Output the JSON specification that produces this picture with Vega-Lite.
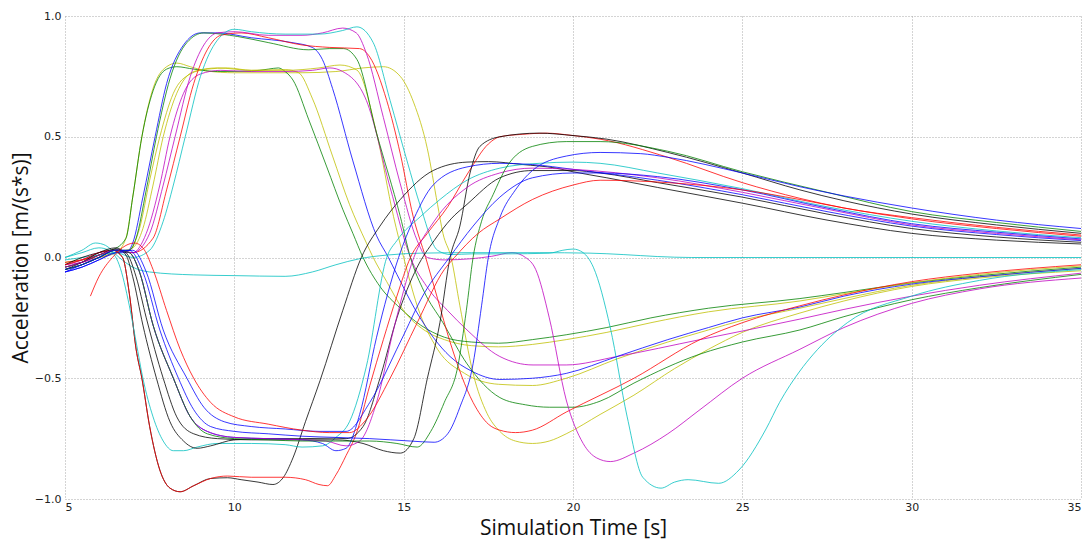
{
"$schema": "https://vega.github.io/schema/vega-lite/v6.json",
"width": 1016, "height": 483,
"autosize": {"type": "none"},
"padding": {"left": 65, "top": 16, "right": 9, "bottom": 42},
"background": "white",
"config": {
  "view": {"stroke": null},
  "axis": {"domain": false, "ticks": false, "grid": true, "gridDash": [1, 2], "gridColor": "#a8a8a8", "gridWidth": 1,
           "labelFont": "DejaVu Sans", "labelFontSize": 11, "labelColor": "#222",
           "titleFont": "Open Sans", "titleFontSize": 21, "titleFontWeight": "normal", "titleColor": "#111"}
},
"data": {"values": [
{"s":"A1","x":5,"y":-0.02},{"s":"A1","x":5.5,"y":-0.01},{"s":"A1","x":6,"y":0},{"s":"A1","x":6.5,"y":0.02},{"s":"A1","x":6.8,"y":0.08},{"s":"A1","x":7.0,"y":0.25},{"s":"A1","x":7.27,"y":0.5},{"s":"A1","x":7.6,"y":0.7},{"s":"A1","x":8.0,"y":0.79},{"s":"A1","x":8.3,"y":0.805},{"s":"A1","x":8.7,"y":0.79},{"s":"A1","x":9.2,"y":0.772},{"s":"A1","x":10,"y":0.765},{"s":"A1","x":11,"y":0.765},{"s":"A1","x":12,"y":0.765},{"s":"A1","x":13,"y":0.77},{"s":"A1","x":13.8,"y":0.785},{"s":"A1","x":14.4,"y":0.79},{"s":"A1","x":14.9,"y":0.75},{"s":"A1","x":15.3,"y":0.64},{"s":"A1","x":15.7,"y":0.45},{"s":"A1","x":16.0,"y":0.22},{"s":"A1","x":16.16,"y":0.1},{"s":"A1","x":16.4,"y":0},{"s":"A1","x":16.66,"y":-0.2},{"s":"A1","x":17.05,"y":-0.48},{"s":"A1","x":17.46,"y":-0.645},{"s":"A1","x":17.84,"y":-0.72},{"s":"A1","x":18.3,"y":-0.76},{"s":"A1","x":18.8,"y":-0.77},{"s":"A1","x":19.3,"y":-0.76},{"s":"A1","x":19.8,"y":-0.73},{"s":"A1","x":20.8,"y":-0.65},{"s":"A1","x":21.8,"y":-0.57},{"s":"A1","x":23,"y":-0.46},{"s":"A1","x":24,"y":-0.38},{"s":"A1","x":25,"y":-0.31},{"s":"A1","x":26.7,"y":-0.23},{"s":"A1","x":28,"y":-0.18},{"s":"A1","x":30,"y":-0.12},{"s":"A1","x":32,"y":-0.085},{"s":"A1","x":35,"y":-0.055},
{"s":"A2","x":5,"y":-0.04},{"s":"A2","x":5.5,"y":-0.02},{"s":"A2","x":6,"y":0.01},{"s":"A2","x":6.4,"y":0.03},{"s":"A2","x":6.8,"y":0.08},{"s":"A2","x":7.0,"y":0.25},{"s":"A2","x":7.27,"y":0.5},{"s":"A2","x":7.6,"y":0.69},{"s":"A2","x":8.0,"y":0.78},{"s":"A2","x":8.3,"y":0.79},{"s":"A2","x":8.8,"y":0.78},{"s":"A2","x":9.5,"y":0.77},{"s":"A2","x":10.5,"y":0.772},{"s":"A2","x":11.0,"y":0.78},{"s":"A2","x":11.3,"y":0.785},{"s":"A2","x":11.5,"y":0.77},{"s":"A2","x":11.73,"y":0.735},{"s":"A2","x":12.2,"y":0.57},{"s":"A2","x":12.73,"y":0.375},{"s":"A2","x":13.2,"y":0.2},{"s":"A2","x":13.5,"y":0.1},{"s":"A2","x":13.8,"y":0},{"s":"A2","x":14.3,"y":-0.12},{"s":"A2","x":14.9,"y":-0.21},{"s":"A2","x":15.5,"y":-0.28},{"s":"A2","x":16.2,"y":-0.33},{"s":"A2","x":17,"y":-0.35},{"s":"A2","x":17.8,"y":-0.355},{"s":"A2","x":18.8,"y":-0.34},{"s":"A2","x":19.8,"y":-0.32},{"s":"A2","x":21,"y":-0.29},{"s":"A2","x":22.3,"y":-0.25},{"s":"A2","x":24,"y":-0.21},{"s":"A2","x":26.7,"y":-0.17},{"s":"A2","x":28,"y":-0.145},{"s":"A2","x":30,"y":-0.105},{"s":"A2","x":32,"y":-0.075},{"s":"A2","x":35,"y":-0.04},
{"s":"A3","x":5,"y":-0.03},{"s":"A3","x":5.5,"y":-0.01},{"s":"A3","x":6,"y":0.01},{"s":"A3","x":6.5,"y":0.02},{"s":"A3","x":6.9,"y":0.03},{"s":"A3","x":7.2,"y":0.12},{"s":"A3","x":7.5,"y":0.32},{"s":"A3","x":7.8,"y":0.5},{"s":"A3","x":8.2,"y":0.68},{"s":"A3","x":8.7,"y":0.76},{"s":"A3","x":9.2,"y":0.78},{"s":"A3","x":9.8,"y":0.785},{"s":"A3","x":10.5,"y":0.775},{"s":"A3","x":11.5,"y":0.778},{"s":"A3","x":11.9,"y":0.765},{"s":"A3","x":12.3,"y":0.66},{"s":"A3","x":12.9,"y":0.42},{"s":"A3","x":13.4,"y":0.22},{"s":"A3","x":13.9,"y":0.06},{"s":"A3","x":14.1,"y":0},{"s":"A3","x":14.5,"y":-0.1},{"s":"A3","x":15,"y":-0.22},{"s":"A3","x":15.6,"y":-0.3},{"s":"A3","x":16.2,"y":-0.34},{"s":"A3","x":17,"y":-0.365},{"s":"A3","x":17.8,"y":-0.37},{"s":"A3","x":18.8,"y":-0.36},{"s":"A3","x":19.8,"y":-0.34},{"s":"A3","x":21,"y":-0.31},{"s":"A3","x":22.3,"y":-0.27},{"s":"A3","x":24,"y":-0.225},{"s":"A3","x":26.7,"y":-0.18},{"s":"A3","x":28,"y":-0.15},{"s":"A3","x":30,"y":-0.105},{"s":"A3","x":32,"y":-0.07},{"s":"A3","x":35,"y":-0.035},
{"s":"A4","x":5,"y":-0.05},{"s":"A4","x":5.5,"y":-0.03},{"s":"A4","x":6,"y":0},{"s":"A4","x":6.5,"y":0.02},{"s":"A4","x":7,"y":0.04},{"s":"A4","x":7.3,"y":0.12},{"s":"A4","x":7.6,"y":0.3},{"s":"A4","x":7.9,"y":0.5},{"s":"A4","x":8.3,"y":0.68},{"s":"A4","x":8.8,"y":0.77},{"s":"A4","x":9.5,"y":0.785},{"s":"A4","x":10.5,"y":0.775},{"s":"A4","x":11.5,"y":0.775},{"s":"A4","x":12.5,"y":0.785},{"s":"A4","x":13.12,"y":0.797},{"s":"A4","x":13.62,"y":0.776},{"s":"A4","x":14.2,"y":0.515},{"s":"A4","x":14.7,"y":0.17},{"s":"A4","x":15.0,"y":0},{"s":"A4","x":15.4,"y":-0.2},{"s":"A4","x":16.0,"y":-0.38},{"s":"A4","x":16.8,"y":-0.48},{"s":"A4","x":17.8,"y":-0.525},{"s":"A4","x":18.8,"y":-0.53},{"s":"A4","x":19.8,"y":-0.5},{"s":"A4","x":21.3,"y":-0.42},{"s":"A4","x":22.8,"y":-0.35},{"s":"A4","x":24,"y":-0.3},{"s":"A4","x":25,"y":-0.26},{"s":"A4","x":26.7,"y":-0.21},{"s":"A4","x":28,"y":-0.17},{"s":"A4","x":30,"y":-0.115},{"s":"A4","x":32,"y":-0.08},{"s":"A4","x":35,"y":-0.045},
{"s":"A5","x":5,"y":-0.03},{"s":"A5","x":5.5,"y":-0.02},{"s":"A5","x":6,"y":0},{"s":"A5","x":6.5,"y":0.03},{"s":"A5","x":7,"y":0.02},{"s":"A5","x":7.4,"y":0.1},{"s":"A5","x":7.8,"y":0.3},{"s":"A5","x":8.1,"y":0.5},{"s":"A5","x":8.5,"y":0.68},{"s":"A5","x":9,"y":0.76},{"s":"A5","x":9.6,"y":0.775},{"s":"A5","x":10.5,"y":0.77},{"s":"A5","x":11.5,"y":0.77},{"s":"A5","x":12.3,"y":0.775},{"s":"A5","x":12.82,"y":0.785},{"s":"A5","x":13.2,"y":0.77},{"s":"A5","x":13.9,"y":0.65},{"s":"A5","x":14.6,"y":0.29},{"s":"A5","x":15.2,"y":0},{"s":"A5","x":15.68,"y":-0.12},{"s":"A5","x":16.3,"y":-0.22},{"s":"A5","x":16.87,"y":-0.3},{"s":"A5","x":17.84,"y":-0.41},{"s":"A5","x":18.82,"y":-0.445},{"s":"A5","x":19.8,"y":-0.445},{"s":"A5","x":21.3,"y":-0.41},{"s":"A5","x":23.75,"y":-0.34},{"s":"A5","x":26.7,"y":-0.255},{"s":"A5","x":28,"y":-0.215},{"s":"A5","x":30,"y":-0.16},{"s":"A5","x":32,"y":-0.115},{"s":"A5","x":35,"y":-0.065},
{"s":"A6","x":5,"y":-0.06},{"s":"A6","x":5.5,"y":-0.04},{"s":"A6","x":6,"y":-0.01},{"s":"A6","x":6.5,"y":0.02},{"s":"A6","x":6.8,"y":0.02},{"s":"A6","x":7.0,"y":0.06},{"s":"A6","x":7.3,"y":0.25},{"s":"A6","x":7.66,"y":0.5},{"s":"A6","x":8.0,"y":0.72},{"s":"A6","x":8.5,"y":0.88},{"s":"A6","x":9.0,"y":0.93},{"s":"A6","x":9.5,"y":0.93},{"s":"A6","x":10.5,"y":0.91},{"s":"A6","x":11.7,"y":0.89},{"s":"A6","x":12.3,"y":0.87},{"s":"A6","x":12.6,"y":0.82},{"s":"A6","x":12.9,"y":0.7},{"s":"A6","x":13.5,"y":0.4},{"s":"A6","x":14.2,"y":0.09},{"s":"A6","x":14.55,"y":0},{"s":"A6","x":14.8,"y":-0.07},{"s":"A6","x":15.4,"y":-0.23},{"s":"A6","x":16.37,"y":-0.41},{"s":"A6","x":17.0,"y":-0.47},{"s":"A6","x":17.84,"y":-0.505},{"s":"A6","x":18.8,"y":-0.5},{"s":"A6","x":19.8,"y":-0.48},{"s":"A6","x":21.3,"y":-0.41},{"s":"A6","x":22.8,"y":-0.34},{"s":"A6","x":24,"y":-0.29},{"s":"A6","x":25,"y":-0.25},{"s":"A6","x":26.7,"y":-0.205},{"s":"A6","x":28,"y":-0.16},{"s":"A6","x":30,"y":-0.11},{"s":"A6","x":32,"y":-0.08},{"s":"A6","x":35,"y":-0.045},
{"s":"A7","x":5,"y":-0.05},{"s":"A7","x":5.5,"y":-0.03},{"s":"A7","x":6,"y":0},{"s":"A7","x":6.5,"y":0.03},{"s":"A7","x":6.9,"y":0.03},{"s":"A7","x":7.1,"y":0.08},{"s":"A7","x":7.4,"y":0.28},{"s":"A7","x":7.7,"y":0.5},{"s":"A7","x":8.1,"y":0.74},{"s":"A7","x":8.6,"y":0.89},{"s":"A7","x":9.1,"y":0.93},{"s":"A7","x":10.1,"y":0.915},{"s":"A7","x":11,"y":0.89},{"s":"A7","x":12.2,"y":0.86},{"s":"A7","x":12.8,"y":0.865},{"s":"A7","x":13.22,"y":0.865},{"s":"A7","x":13.62,"y":0.82},{"s":"A7","x":14.2,"y":0.515},{"s":"A7","x":14.9,"y":0.17},{"s":"A7","x":15.2,"y":0},{"s":"A7","x":15.6,"y":-0.14},{"s":"A7","x":16.16,"y":-0.27},{"s":"A7","x":16.87,"y":-0.44},{"s":"A7","x":17.84,"y":-0.58},{"s":"A7","x":18.6,"y":-0.61},{"s":"A7","x":19.3,"y":-0.62},{"s":"A7","x":20.0,"y":-0.62},{"s":"A7","x":20.8,"y":-0.595},{"s":"A7","x":21.8,"y":-0.52},{"s":"A7","x":23.75,"y":-0.4},{"s":"A7","x":25,"y":-0.35},{"s":"A7","x":26.7,"y":-0.3},{"s":"A7","x":28,"y":-0.245},{"s":"A7","x":30,"y":-0.175},{"s":"A7","x":32,"y":-0.125},{"s":"A7","x":35,"y":-0.07},
{"s":"A8","x":5,"y":-0.02},{"s":"A8","x":5.5,"y":-0.01},{"s":"A8","x":6,"y":0.01},{"s":"A8","x":6.5,"y":0.03},{"s":"A8","x":7,"y":0.02},{"s":"A8","x":7.6,"y":0.08},{"s":"A8","x":8.0,"y":0.28},{"s":"A8","x":8.4,"y":0.5},{"s":"A8","x":8.8,"y":0.72},{"s":"A8","x":9.2,"y":0.86},{"s":"A8","x":9.6,"y":0.92},{"s":"A8","x":10.2,"y":0.93},{"s":"A8","x":11,"y":0.91},{"s":"A8","x":12,"y":0.88},{"s":"A8","x":12.8,"y":0.87},{"s":"A8","x":13.7,"y":0.865},{"s":"A8","x":14.0,"y":0.83},{"s":"A8","x":14.5,"y":0.65},{"s":"A8","x":14.9,"y":0.43},{"s":"A8","x":15.28,"y":0.17},{"s":"A8","x":15.65,"y":0},{"s":"A8","x":16.0,"y":-0.17},{"s":"A8","x":16.37,"y":-0.35},{"s":"A8","x":17.05,"y":-0.6},{"s":"A8","x":17.5,"y":-0.69},{"s":"A8","x":17.84,"y":-0.715},{"s":"A8","x":18.3,"y":-0.725},{"s":"A8","x":18.8,"y":-0.715},{"s":"A8","x":19.8,"y":-0.64},{"s":"A8","x":21.8,"y":-0.5},{"s":"A8","x":23.75,"y":-0.34},{"s":"A8","x":25,"y":-0.27},{"s":"A8","x":26.7,"y":-0.2},{"s":"A8","x":28,"y":-0.155},{"s":"A8","x":30,"y":-0.1},{"s":"A8","x":32,"y":-0.065},{"s":"A8","x":35,"y":-0.03},
{"s":"A9","x":5,"y":-0.03},{"s":"A9","x":5.5,"y":-0.01},{"s":"A9","x":6,"y":0.02},{"s":"A9","x":6.5,"y":0.03},{"s":"A9","x":7,"y":0.02},{"s":"A9","x":7.5,"y":0.1},{"s":"A9","x":7.9,"y":0.3},{"s":"A9","x":8.25,"y":0.5},{"s":"A9","x":8.7,"y":0.75},{"s":"A9","x":9.1,"y":0.88},{"s":"A9","x":9.5,"y":0.93},{"s":"A9","x":10,"y":0.935},{"s":"A9","x":11,"y":0.92},{"s":"A9","x":12,"y":0.92},{"s":"A9","x":12.6,"y":0.93},{"s":"A9","x":13.2,"y":0.95},{"s":"A9","x":13.6,"y":0.93},{"s":"A9","x":13.9,"y":0.845},{"s":"A9","x":14.4,"y":0.58},{"s":"A9","x":14.9,"y":0.305},{"s":"A9","x":15.4,"y":0.07},{"s":"A9","x":15.7,"y":0},{"s":"A9","x":16.2,"y":-0.01},{"s":"A9","x":17,"y":-0.005},{"s":"A9","x":17.6,"y":0.005},{"s":"A9","x":18.2,"y":0.02},{"s":"A9","x":18.6,"y":0},{"s":"A9","x":18.9,"y":-0.05},{"s":"A9","x":19.3,"y":-0.25},{"s":"A9","x":19.8,"y":-0.59},{"s":"A9","x":20.3,"y":-0.77},{"s":"A9","x":20.7,"y":-0.83},{"s":"A9","x":21.1,"y":-0.845},{"s":"A9","x":21.8,"y":-0.81},{"s":"A9","x":22.8,"y":-0.73},{"s":"A9","x":23.75,"y":-0.63},{"s":"A9","x":25,"y":-0.5},{"s":"A9","x":26.7,"y":-0.38},{"s":"A9","x":28,"y":-0.29},{"s":"A9","x":30,"y":-0.19},{"s":"A9","x":32,"y":-0.13},{"s":"A9","x":35,"y":-0.085},
{"s":"A10","x":5,"y":-0.01},{"s":"A10","x":5.5,"y":0},{"s":"A10","x":6,"y":0.01},{"s":"A10","x":6.5,"y":0.02},{"s":"A10","x":7,"y":0},{"s":"A10","x":7.5,"y":0.03},{"s":"A10","x":7.9,"y":0.15},{"s":"A10","x":8.2,"y":0.3},{"s":"A10","x":8.55,"y":0.5},{"s":"A10","x":9.0,"y":0.75},{"s":"A10","x":9.5,"y":0.9},{"s":"A10","x":10,"y":0.945},{"s":"A10","x":10.5,"y":0.935},{"s":"A10","x":11.5,"y":0.925},{"s":"A10","x":12.5,"y":0.925},{"s":"A10","x":13.2,"y":0.94},{"s":"A10","x":13.62,"y":0.955},{"s":"A10","x":14.1,"y":0.89},{"s":"A10","x":14.6,"y":0.65},{"s":"A10","x":15.1,"y":0.4},{"s":"A10","x":15.5,"y":0.21},{"s":"A10","x":16.0,"y":0.03},{"s":"A10","x":16.4,"y":0.012},{"s":"A10","x":17,"y":0.015},{"s":"A10","x":18,"y":0.015},{"s":"A10","x":19.3,"y":0.018},{"s":"A10","x":19.7,"y":0.03},{"s":"A10","x":20.0,"y":0.035},{"s":"A10","x":20.3,"y":0.02},{"s":"A10","x":20.6,"y":-0.04},{"s":"A10","x":21.1,"y":-0.29},{"s":"A10","x":21.6,"y":-0.66},{"s":"A10","x":22.06,"y":-0.91},{"s":"A10","x":22.6,"y":-0.955},{"s":"A10","x":23.0,"y":-0.93},{"s":"A10","x":23.4,"y":-0.92},{"s":"A10","x":24.3,"y":-0.935},{"s":"A10","x":24.9,"y":-0.88},{"s":"A10","x":25.7,"y":-0.71},{"s":"A10","x":26.1,"y":-0.6},{"s":"A10","x":26.7,"y":-0.47},{"s":"A10","x":27.1,"y":-0.4},{"s":"A10","x":28.1,"y":-0.27},{"s":"A10","x":30,"y":-0.16},{"s":"A10","x":32,"y":-0.095},{"s":"A10","x":35,"y":-0.05},
{"s":"C","x":5,"y":0},{"s":"C","x":5.5,"y":0.03},{"s":"C","x":5.9,"y":0.06},{"s":"C","x":6.2,"y":0.05},{"s":"C","x":6.6,"y":0},{"s":"C","x":7.0,"y":-0.04},{"s":"C","x":7.5,"y":-0.06},{"s":"C","x":8.8,"y":-0.072},{"s":"C","x":10,"y":-0.075},{"s":"C","x":11.5,"y":-0.078},{"s":"C","x":12.3,"y":-0.06},{"s":"C","x":13,"y":-0.03},{"s":"C","x":13.7,"y":-0.005},{"s":"C","x":14.5,"y":0.01},{"s":"C","x":15.5,"y":0.018},{"s":"C","x":17,"y":0.02},{"s":"C","x":19,"y":0.02},{"s":"C","x":20.5,"y":0.018},{"s":"C","x":21.5,"y":0.012},{"s":"C","x":22.5,"y":0.004},{"s":"C","x":23.5,"y":0},{"s":"C","x":35,"y":0},
{"s":"B1","x":5,"y":-0.03},{"s":"B1","x":5.5,"y":0},{"s":"B1","x":6,"y":0.02},{"s":"B1","x":6.4,"y":0.03},{"s":"B1","x":6.7,"y":0},{"s":"B1","x":6.9,"y":-0.15},{"s":"B1","x":7.1,"y":-0.38},{"s":"B1","x":7.27,"y":-0.5},{"s":"B1","x":7.5,"y":-0.7},{"s":"B1","x":7.8,"y":-0.88},{"s":"B1","x":8.1,"y":-0.955},{"s":"B1","x":8.4,"y":-0.97},{"s":"B1","x":8.8,"y":-0.945},{"s":"B1","x":9.3,"y":-0.915},{"s":"B1","x":9.8,"y":-0.912},{"s":"B1","x":10.2,"y":-0.92},{"s":"B1","x":10.7,"y":-0.93},{"s":"B1","x":11.14,"y":-0.94},{"s":"B1","x":11.45,"y":-0.91},{"s":"B1","x":11.73,"y":-0.83},{"s":"B1","x":12.1,"y":-0.68},{"s":"B1","x":12.53,"y":-0.51},{"s":"B1","x":13.2,"y":-0.22},{"s":"B1","x":13.75,"y":0},{"s":"B1","x":14.3,"y":0.13},{"s":"B1","x":14.9,"y":0.24},{"s":"B1","x":15.87,"y":0.36},{"s":"B1","x":16.87,"y":0.395},{"s":"B1","x":17.5,"y":0.397},{"s":"B1","x":18.5,"y":0.385},{"s":"B1","x":19.5,"y":0.37},{"s":"B1","x":20,"y":0.355},{"s":"B1","x":21,"y":0.33},{"s":"B1","x":22.5,"y":0.29},{"s":"B1","x":25,"y":0.225},{"s":"B1","x":27.5,"y":0.155},{"s":"B1","x":30,"y":0.1},{"s":"B1","x":32.5,"y":0.072},{"s":"B1","x":35,"y":0.056},
{"s":"B2","x":5,"y":-0.03},{"s":"B2","x":5.5,"y":-0.01},{"s":"B2","x":6,"y":0.02},{"s":"B2","x":6.4,"y":0.03},{"s":"B2","x":6.7,"y":0},{"s":"B2","x":6.9,"y":-0.15},{"s":"B2","x":7.1,"y":-0.38},{"s":"B2","x":7.27,"y":-0.5},{"s":"B2","x":7.5,"y":-0.7},{"s":"B2","x":7.8,"y":-0.88},{"s":"B2","x":8.1,"y":-0.955},{"s":"B2","x":8.4,"y":-0.97},{"s":"B2","x":8.8,"y":-0.945},{"s":"B2","x":9.3,"y":-0.915},{"s":"B2","x":9.8,"y":-0.905},{"s":"B2","x":10.5,"y":-0.91},{"s":"B2","x":11.5,"y":-0.91},{"s":"B2","x":12.1,"y":-0.92},{"s":"B2","x":12.5,"y":-0.94},{"s":"B2","x":12.75,"y":-0.945},{"s":"B2","x":13.0,"y":-0.9},{"s":"B2","x":13.3,"y":-0.82},{"s":"B2","x":13.6,"y":-0.73},{"s":"B2","x":14.0,"y":-0.53},{"s":"B2","x":14.4,"y":-0.34},{"s":"B2","x":14.8,"y":-0.16},{"s":"B2","x":15.2,"y":0},{"s":"B2","x":15.7,"y":0.1},{"s":"B2","x":16.3,"y":0.21},{"s":"B2","x":16.9,"y":0.35},{"s":"B2","x":17.5,"y":0.47},{"s":"B2","x":17.84,"y":0.5},{"s":"B2","x":18.5,"y":0.51},{"s":"B2","x":19.2,"y":0.515},{"s":"B2","x":20,"y":0.505},{"s":"B2","x":20.8,"y":0.49},{"s":"B2","x":22.8,"y":0.415},{"s":"B2","x":25,"y":0.31},{"s":"B2","x":26.7,"y":0.245},{"s":"B2","x":28,"y":0.205},{"s":"B2","x":30,"y":0.165},{"s":"B2","x":32.5,"y":0.125},{"s":"B2","x":35,"y":0.093},
{"s":"B3","x":5,"y":0},{"s":"B3","x":5.5,"y":0.02},{"s":"B3","x":6,"y":0.04},{"s":"B3","x":6.3,"y":0.03},{"s":"B3","x":6.6,"y":-0.03},{"s":"B3","x":6.9,"y":-0.2},{"s":"B3","x":7.1,"y":-0.35},{"s":"B3","x":7.3,"y":-0.5},{"s":"B3","x":7.6,"y":-0.66},{"s":"B3","x":7.9,"y":-0.76},{"s":"B3","x":8.2,"y":-0.8},{"s":"B3","x":8.5,"y":-0.8},{"s":"B3","x":8.9,"y":-0.785},{"s":"B3","x":9.5,"y":-0.77},{"s":"B3","x":10.5,"y":-0.77},{"s":"B3","x":11.5,"y":-0.775},{"s":"B3","x":12.0,"y":-0.785},{"s":"B3","x":12.6,"y":-0.78},{"s":"B3","x":13.0,"y":-0.745},{"s":"B3","x":13.4,"y":-0.68},{"s":"B3","x":13.9,"y":-0.45},{"s":"B3","x":14.5,"y":0},{"s":"B3","x":14.8,"y":0.07},{"s":"B3","x":15.5,"y":0.17},{"s":"B3","x":16.07,"y":0.24},{"s":"B3","x":16.87,"y":0.32},{"s":"B3","x":17.84,"y":0.37},{"s":"B3","x":19,"y":0.39},{"s":"B3","x":20,"y":0.395},{"s":"B3","x":20.8,"y":0.39},{"s":"B3","x":22.5,"y":0.35},{"s":"B3","x":25,"y":0.285},{"s":"B3","x":27.5,"y":0.21},{"s":"B3","x":30,"y":0.15},{"s":"B3","x":32.5,"y":0.11},{"s":"B3","x":35,"y":0.082},
{"s":"B4","x":5,"y":-0.05},{"s":"B4","x":5.5,"y":-0.02},{"s":"B4","x":6,"y":0.02},{"s":"B4","x":6.5,"y":0.04},{"s":"B4","x":6.8,"y":0.01},{"s":"B4","x":7.0,"y":-0.08},{"s":"B4","x":7.3,"y":-0.28},{"s":"B4","x":7.7,"y":-0.5},{"s":"B4","x":8.1,"y":-0.68},{"s":"B4","x":8.5,"y":-0.76},{"s":"B4","x":8.9,"y":-0.79},{"s":"B4","x":9.3,"y":-0.78},{"s":"B4","x":10,"y":-0.755},{"s":"B4","x":11,"y":-0.75},{"s":"B4","x":12,"y":-0.75},{"s":"B4","x":13,"y":-0.748},{"s":"B4","x":13.3,"y":-0.75},{"s":"B4","x":13.8,"y":-0.7},{"s":"B4","x":14.3,"y":-0.5},{"s":"B4","x":14.8,"y":-0.25},{"s":"B4","x":15.4,"y":-0.04},{"s":"B4","x":15.9,"y":0.07},{"s":"B4","x":16.4,"y":0.16},{"s":"B4","x":16.87,"y":0.22},{"s":"B4","x":17.84,"y":0.33},{"s":"B4","x":18.8,"y":0.36},{"s":"B4","x":20,"y":0.36},{"s":"B4","x":20.8,"y":0.35},{"s":"B4","x":22.5,"y":0.31},{"s":"B4","x":25,"y":0.25},{"s":"B4","x":27.5,"y":0.18},{"s":"B4","x":30,"y":0.12},{"s":"B4","x":32.5,"y":0.085},{"s":"B4","x":35,"y":0.063},
{"s":"B5","x":5,"y":-0.04},{"s":"B5","x":5.5,"y":-0.02},{"s":"B5","x":6,"y":0.01},{"s":"B5","x":6.5,"y":0.035},{"s":"B5","x":6.8,"y":0.02},{"s":"B5","x":7.1,"y":-0.08},{"s":"B5","x":7.4,"y":-0.25},{"s":"B5","x":7.9,"y":-0.5},{"s":"B5","x":8.3,"y":-0.66},{"s":"B5","x":8.8,"y":-0.73},{"s":"B5","x":9.5,"y":-0.75},{"s":"B5","x":10.5,"y":-0.755},{"s":"B5","x":12,"y":-0.755},{"s":"B5","x":13,"y":-0.755},{"s":"B5","x":13.8,"y":-0.77},{"s":"B5","x":14.4,"y":-0.8},{"s":"B5","x":14.9,"y":-0.81},{"s":"B5","x":15.3,"y":-0.75},{"s":"B5","x":15.7,"y":-0.5},{"s":"B5","x":16.07,"y":-0.27},{"s":"B5","x":16.37,"y":0},{"s":"B5","x":16.66,"y":0.13},{"s":"B5","x":16.96,"y":0.35},{"s":"B5","x":17.25,"y":0.46},{"s":"B5","x":17.84,"y":0.5},{"s":"B5","x":19,"y":0.515},{"s":"B5","x":20,"y":0.505},{"s":"B5","x":21,"y":0.49},{"s":"B5","x":22.8,"y":0.435},{"s":"B5","x":25,"y":0.35},{"s":"B5","x":26.7,"y":0.28},{"s":"B5","x":28,"y":0.235},{"s":"B5","x":30,"y":0.18},{"s":"B5","x":32.5,"y":0.135},{"s":"B5","x":35,"y":0.1},
{"s":"B6","x":5,"y":-0.06},{"s":"B6","x":5.5,"y":-0.03},{"s":"B6","x":6,"y":0},{"s":"B6","x":6.5,"y":0.03},{"s":"B6","x":6.9,"y":0.02},{"s":"B6","x":7.2,"y":-0.06},{"s":"B6","x":7.6,"y":-0.28},{"s":"B6","x":8.2,"y":-0.5},{"s":"B6","x":8.7,"y":-0.66},{"s":"B6","x":9.2,"y":-0.72},{"s":"B6","x":10,"y":-0.745},{"s":"B6","x":11,"y":-0.75},{"s":"B6","x":12,"y":-0.755},{"s":"B6","x":12.6,"y":-0.77},{"s":"B6","x":13.0,"y":-0.8},{"s":"B6","x":13.3,"y":-0.79},{"s":"B6","x":13.7,"y":-0.65},{"s":"B6","x":14.2,"y":-0.33},{"s":"B6","x":14.85,"y":0},{"s":"B6","x":15.3,"y":0.16},{"s":"B6","x":15.87,"y":0.3},{"s":"B6","x":16.87,"y":0.375},{"s":"B6","x":17.84,"y":0.39},{"s":"B6","x":18.8,"y":0.385},{"s":"B6","x":20,"y":0.365},{"s":"B6","x":22.5,"y":0.32},{"s":"B6","x":25,"y":0.26},{"s":"B6","x":27.5,"y":0.19},{"s":"B6","x":30,"y":0.13},{"s":"B6","x":32.5,"y":0.095},{"s":"B6","x":35,"y":0.07},
{"s":"B7","x":5,"y":-0.04},{"s":"B7","x":5.5,"y":-0.02},{"s":"B7","x":6,"y":0.01},{"s":"B7","x":6.5,"y":0.03},{"s":"B7","x":6.9,"y":0.02},{"s":"B7","x":7.2,"y":-0.06},{"s":"B7","x":7.6,"y":-0.28},{"s":"B7","x":8.2,"y":-0.5},{"s":"B7","x":8.7,"y":-0.66},{"s":"B7","x":9.2,"y":-0.72},{"s":"B7","x":10,"y":-0.745},{"s":"B7","x":11,"y":-0.75},{"s":"B7","x":12,"y":-0.755},{"s":"B7","x":12.7,"y":-0.76},{"s":"B7","x":13.3,"y":-0.78},{"s":"B7","x":13.7,"y":-0.76},{"s":"B7","x":14.2,"y":-0.6},{"s":"B7","x":14.7,"y":-0.3},{"s":"B7","x":15.3,"y":0},{"s":"B7","x":15.9,"y":0.15},{"s":"B7","x":16.87,"y":0.29},{"s":"B7","x":17.84,"y":0.35},{"s":"B7","x":18.8,"y":0.37},{"s":"B7","x":20,"y":0.365},{"s":"B7","x":22.5,"y":0.33},{"s":"B7","x":25,"y":0.27},{"s":"B7","x":27.5,"y":0.2},{"s":"B7","x":30,"y":0.135},{"s":"B7","x":32.5,"y":0.1},{"s":"B7","x":35,"y":0.073},
{"s":"B8","x":5,"y":-0.05},{"s":"B8","x":5.5,"y":-0.03},{"s":"B8","x":6,"y":0},{"s":"B8","x":6.5,"y":0.03},{"s":"B8","x":6.9,"y":0.02},{"s":"B8","x":7.2,"y":-0.06},{"s":"B8","x":7.6,"y":-0.28},{"s":"B8","x":8.2,"y":-0.5},{"s":"B8","x":8.7,"y":-0.66},{"s":"B8","x":9.2,"y":-0.73},{"s":"B8","x":10,"y":-0.75},{"s":"B8","x":11,"y":-0.755},{"s":"B8","x":12,"y":-0.76},{"s":"B8","x":13,"y":-0.76},{"s":"B8","x":14,"y":-0.76},{"s":"B8","x":14.8,"y":-0.77},{"s":"B8","x":15.4,"y":-0.785},{"s":"B8","x":15.8,"y":-0.72},{"s":"B8","x":16.2,"y":-0.6},{"s":"B8","x":16.6,"y":-0.45},{"s":"B8","x":16.85,"y":-0.22},{"s":"B8","x":17.05,"y":0},{"s":"B8","x":17.3,"y":0.15},{"s":"B8","x":17.64,"y":0.26},{"s":"B8","x":18.04,"y":0.375},{"s":"B8","x":18.8,"y":0.46},{"s":"B8","x":19.8,"y":0.48},{"s":"B8","x":20.8,"y":0.48},{"s":"B8","x":22.8,"y":0.44},{"s":"B8","x":25,"y":0.355},{"s":"B8","x":27.5,"y":0.27},{"s":"B8","x":30,"y":0.19},{"s":"B8","x":32.5,"y":0.145},{"s":"B8","x":35,"y":0.108},
{"s":"B9","x":5,"y":-0.05},{"s":"B9","x":5.5,"y":-0.03},{"s":"B9","x":6,"y":0},{"s":"B9","x":6.5,"y":0.03},{"s":"B9","x":6.9,"y":0.03},{"s":"B9","x":7.3,"y":-0.06},{"s":"B9","x":7.8,"y":-0.3},{"s":"B9","x":8.35,"y":-0.5},{"s":"B9","x":8.8,"y":-0.63},{"s":"B9","x":9.3,"y":-0.7},{"s":"B9","x":10,"y":-0.72},{"s":"B9","x":11,"y":-0.73},{"s":"B9","x":12,"y":-0.74},{"s":"B9","x":13,"y":-0.745},{"s":"B9","x":14,"y":-0.75},{"s":"B9","x":15.2,"y":-0.76},{"s":"B9","x":15.9,"y":-0.765},{"s":"B9","x":16.3,"y":-0.73},{"s":"B9","x":16.66,"y":-0.62},{"s":"B9","x":17.05,"y":-0.44},{"s":"B9","x":17.3,"y":-0.2},{"s":"B9","x":17.5,"y":0},{"s":"B9","x":17.84,"y":0.165},{"s":"B9","x":18.3,"y":0.28},{"s":"B9","x":18.8,"y":0.36},{"s":"B9","x":19.8,"y":0.42},{"s":"B9","x":20.8,"y":0.435},{"s":"B9","x":22,"y":0.43},{"s":"B9","x":22.8,"y":0.415},{"s":"B9","x":25,"y":0.35},{"s":"B9","x":26.7,"y":0.293},{"s":"B9","x":28,"y":0.255},{"s":"B9","x":30,"y":0.205},{"s":"B9","x":32.5,"y":0.155},{"s":"B9","x":35,"y":0.12},
{"s":"B10","x":5,"y":-0.06},{"s":"B10","x":5.5,"y":-0.04},{"s":"B10","x":6,"y":-0.01},{"s":"B10","x":6.5,"y":0.02},{"s":"B10","x":7.0,"y":0.03},{"s":"B10","x":7.4,"y":-0.06},{"s":"B10","x":7.9,"y":-0.3},{"s":"B10","x":8.6,"y":-0.5},{"s":"B10","x":9.1,"y":-0.62},{"s":"B10","x":9.7,"y":-0.68},{"s":"B10","x":10.5,"y":-0.7},{"s":"B10","x":11.5,"y":-0.71},{"s":"B10","x":12.5,"y":-0.72},{"s":"B10","x":13.3,"y":-0.72},{"s":"B10","x":14.0,"y":-0.6},{"s":"B10","x":14.9,"y":-0.35},{"s":"B10","x":15.6,"y":-0.15},{"s":"B10","x":16.35,"y":0},{"s":"B10","x":17.05,"y":0.13},{"s":"B10","x":17.84,"y":0.25},{"s":"B10","x":18.8,"y":0.33},{"s":"B10","x":20,"y":0.35},{"s":"B10","x":20.8,"y":0.35},{"s":"B10","x":22.5,"y":0.335},{"s":"B10","x":25,"y":0.28},{"s":"B10","x":27.5,"y":0.205},{"s":"B10","x":30,"y":0.14},{"s":"B10","x":32.5,"y":0.105},{"s":"B10","x":35,"y":0.077},
{"s":"B11","x":5.75,"y":-0.16},{"s":"B11","x":6.0,"y":-0.08},{"s":"B11","x":6.4,"y":0},{"s":"B11","x":6.8,"y":0.05},{"s":"B11","x":7.05,"y":0.06},{"s":"B11","x":7.3,"y":0.04},{"s":"B11","x":7.6,"y":-0.05},{"s":"B11","x":8.0,"y":-0.22},{"s":"B11","x":8.4,"y":-0.38},{"s":"B11","x":8.8,"y":-0.5},{"s":"B11","x":9.3,"y":-0.6},{"s":"B11","x":10,"y":-0.66},{"s":"B11","x":11,"y":-0.69},{"s":"B11","x":12,"y":-0.715},{"s":"B11","x":12.8,"y":-0.725},{"s":"B11","x":13.4,"y":-0.725},{"s":"B11","x":13.9,"y":-0.67},{"s":"B11","x":14.6,"y":-0.5},{"s":"B11","x":15.4,"y":-0.27},{"s":"B11","x":16.2,"y":-0.05},{"s":"B11","x":16.5,"y":0},{"s":"B11","x":17.2,"y":0.1},{"s":"B11","x":17.84,"y":0.16},{"s":"B11","x":18.8,"y":0.24},{"s":"B11","x":20,"y":0.3},{"s":"B11","x":20.8,"y":0.32},{"s":"B11","x":22.8,"y":0.31},{"s":"B11","x":25,"y":0.28},{"s":"B11","x":26.7,"y":0.24},{"s":"B11","x":28,"y":0.205},{"s":"B11","x":30,"y":0.16},{"s":"B11","x":32.5,"y":0.12},{"s":"B11","x":35,"y":0.088}
]},
"mark": {"type": "line", "interpolate": "monotone", "strokeWidth": 1, "opacity": 0.78, "clip": true},
"encoding": {
  "x": {"field": "x", "type": "quantitative", "scale": {"domain": [5, 35], "nice": false, "zero": false},
        "axis": {"values": [5, 10, 15, 20, 25, 30, 35], "format": "d", "title": "Simulation Time [s]", "labelPadding": 2,
                 "titleY": 35, "titleBaseline": "alphabetic"}},
  "y": {"field": "y", "type": "quantitative", "scale": {"domain": [-1, 1], "nice": false},
        "axis": {"values": [-1, -0.5, 0, 0.5, 1], "format": ".1f", "title": "Acceleration [m/(s*s)]", "labelPadding": 4,
                 "titleX": -34, "titleY": 241.5, "titleAngle": 270, "titleBaseline": "bottom", "titleAlign": "center"}},
  "color": {"field": "s", "type": "nominal", "legend": null,
            "scale": {"domain": ["A1","A2","A3","A4","A5","A6","A7","A8","A9","A10","C","B1","B2","B3","B4","B5","B6","B7","B8","B9","B10","B11"],
                      "range": ["#bfbf00","#008000","#bfbf00","#bfbf00","#bf00bf","#0000ff","#008000","#ff0000","#bf00bf","#00bfbf","#00bfbf","#000000","#ff0000","#00bfbf","#000000","#000000","#0000ff","#bf00bf","#008000","#0000ff","#0000ff","#ff0000"]}}
}
}
